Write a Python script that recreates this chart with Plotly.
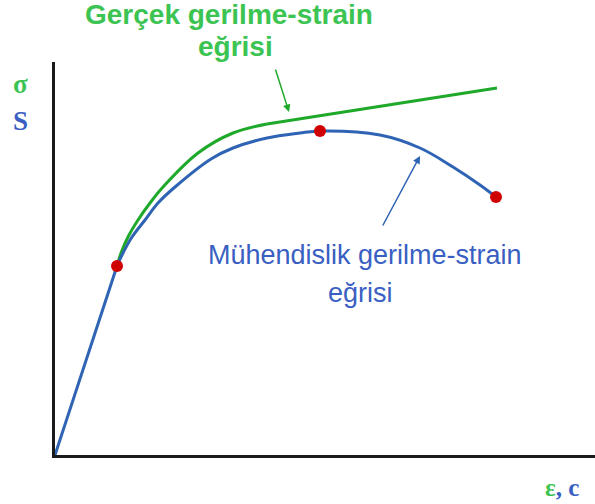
import plotly.graph_objects as go

# Engineering stress-strain curve (arbitrary units)
eng_strain_elastic = [0, 62]
eng_stress_elastic = [0, 189]
eng_strain_plastic = [62, 68, 77, 90, 103, 120, 156, 178, 212, 245, 265, 325, 365, 398, 425, 441]
eng_stress_plastic = [189, 202, 218, 235, 252, 268, 296, 307, 317, 322, 324, 320, 307, 288, 270, 258]

# True stress-strain curve
true_strain_curve = [62, 66, 73, 83, 95, 108, 143, 178, 212]
true_stress_curve = [189, 202, 218, 235, 252, 268, 302, 322, 331]
true_strain_line = [212, 442]
true_stress_line = [331, 367]

# Marked points: yield, UTS, fracture
marker_strain = [62, 265, 441]
marker_stress = [189, 324, 258]

X_MAX, Y_MAX = 540, 393

BLUE = "#2f63b3"
GREEN = "#1fa92a"
GREEN_TXT = "#3cc453"
BLUE_TXT = "#3a5fc2"
RED = "#d00000"

fig = go.Figure()
fig.add_trace(go.Scatter(x=true_strain_curve, y=true_stress_curve, mode="lines",
                         line=dict(color=GREEN, width=3, shape="spline"), hoverinfo="skip"))
fig.add_trace(go.Scatter(x=true_strain_line, y=true_stress_line, mode="lines",
                         line=dict(color=GREEN, width=3), hoverinfo="skip"))
fig.add_trace(go.Scatter(x=eng_strain_elastic, y=eng_stress_elastic, mode="lines",
                         line=dict(color=BLUE, width=3), hoverinfo="skip"))
fig.add_trace(go.Scatter(x=eng_strain_plastic, y=eng_stress_plastic, mode="lines",
                         line=dict(color=BLUE, width=3, shape="spline"), hoverinfo="skip"))
fig.add_trace(go.Scatter(x=marker_strain, y=marker_stress, mode="markers",
                         marker=dict(color=RED, size=12), hoverinfo="skip"))

sans = "Liberation Sans, Arial, sans-serif"
serif = "Liberation Serif, Times New Roman, serif"


def P(x, y):
    return dict(x=x / X_MAX, y=y / Y_MAX, xref="paper", yref="paper",
                xanchor="center", yanchor="middle")


annotations = [
    dict(**P(174, 440), text="<b>Gerçek gerilme-strain</b>", showarrow=False,
         font=dict(family=sans, size=28, color=GREEN_TXT)),
    dict(**P(180, 409), text="<b>eğrisi</b>", showarrow=False,
         font=dict(family=sans, size=28, color=GREEN_TXT)),
    dict(**P(310, 200), text="Mühendislik gerilme-strain", showarrow=False,
         font=dict(family=sans, size=27, color=BLUE_TXT)),
    dict(**P(305, 162), text="eğrisi", showarrow=False,
         font=dict(family=sans, size=27, color=BLUE_TXT)),
    dict(**P(-35, 371), text="<b>σ</b>", showarrow=False,
         font=dict(family=serif, size=27, color=GREEN_TXT)),
    dict(**P(-35, 334), text="<b>S</b>", showarrow=False,
         font=dict(family=serif, size=27, color=BLUE_TXT)),
    dict(**P(507, -32), text=f"<b><span style='color:{GREEN_TXT}'>ε</span><span style='color:{BLUE_TXT}'>, c</span></b>",
         showarrow=False, font=dict(family=serif, size=25)),
    # arrows
    dict(**P(234, 343), ax=-14, ay=-44, text="", showarrow=True, arrowhead=2,
         arrowsize=1, arrowwidth=1.5, arrowcolor=GREEN),
    dict(**P(365, 299), ax=-38, ay=71, text="", showarrow=True, arrowhead=2,
         arrowsize=1, arrowwidth=1.5, arrowcolor=BLUE),
]

fig.update_layout(
    width=595, height=504,
    margin=dict(l=55, r=0, t=62, b=49),
    plot_bgcolor="white", paper_bgcolor="white",
    showlegend=False,
    annotations=annotations,
    xaxis=dict(range=[0, X_MAX], showgrid=False, zeroline=False, showticklabels=False,
               ticks="", showline=True, linecolor="#1a1a1a", linewidth=3, fixedrange=True),
    yaxis=dict(range=[0, Y_MAX], showgrid=False, zeroline=False, showticklabels=False,
               ticks="", showline=True, linecolor="#1a1a1a", linewidth=3, fixedrange=True),
)

fig.write_html("out.html", config={"displayModeBar": False},
               post_script="document.body.style.margin='0';document.body.style.overflow='hidden';")
